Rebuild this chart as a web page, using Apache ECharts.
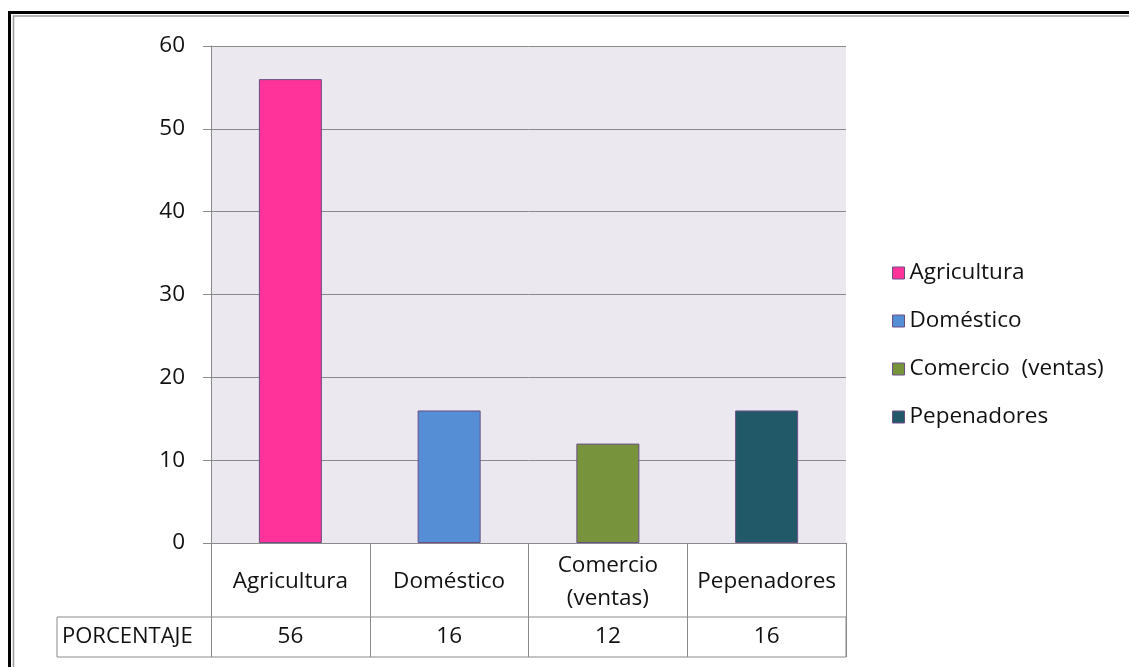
<!DOCTYPE html>
<html>
<head>
<meta charset="utf-8">
<script src="https://cdn.jsdelivr.net/npm/echarts@6/dist/echarts.min.js"></script>
<style>
html,body{margin:0;padding:0;background:#fff;}
#c{width:1129px;height:667px;}
</style>
</head>
<body>
<div id="c"></div>
<script>
var categories = ['Agricultura', 'Doméstico', 'Comercio  (ventas)', 'Pepenadores'];
var values = [56, 16, 12, 16];
var colors = ['#FF3399', '#558ED5', '#77933C', '#215968'];
var rowLabel = 'PORCENTAJE';
var yTicks = { min: 0, max: 60, interval: 10 };

var FONT = 'Open Sans';
var gray = '#8a8a8a';

var chart = echarts.init(document.getElementById('c'), null, { renderer: 'canvas' });

var series = categories.map(function (name, i) {
  return {
    name: name,
    type: 'bar',
    stack: 'one',
    barWidth: 63,
    xAxisIndex: 0,
    yAxisIndex: 0,
    itemStyle: { color: colors[i], borderColor: '#6A4E86', borderWidth: 1 },
    data: values.map(function (v, j) { return j === i ? v : '-'; })
  };
});

var option = {
  animation: false,
  textStyle: { fontFamily: FONT },
  color: colors,
  legend: {
    orient: 'vertical',
    left: 887,
    top: 256,
    itemWidth: 12,
    itemHeight: 12,
    itemGap: 24,
    icon: 'rect',
    itemStyle: { borderColor: '#6A4E86', borderWidth: 1 },
    textStyle: { fontFamily: FONT, fontSize: 22.5, lineHeight: 24, color: '#111', padding: [0, 0, 0, 0] },
    data: categories
  },
  graphic: [
    { type: 'rect', silent: true, shape: { x: 9.5, y: 12.5, width: 1300, height: 1000 },
      style: { fill: 'none', stroke: '#000', lineWidth: 3 } },
    { type: 'rect', silent: true, shape: { x: 13.5, y: 16, width: 1300, height: 1000 },
      style: { fill: 'none', stroke: '#9a9a9a', lineWidth: 1.5 } }
  ],
  grid: [
    { left: 211, right: 283, top: 46, bottom: 124, show: true, backgroundColor: '#EBE9EF', borderWidth: 0 },
    { left: 57, right: 283, top: 617, bottom: 10, height: 40, show: true, backgroundColor: 'transparent', borderColor: gray, borderWidth: 1 }
  ],
  xAxis: [
    {
      type: 'category', gridIndex: 0, data: categories,
      axisLine: { show: true, lineStyle: { color: gray, width: 1 } },
      axisTick: { show: true, interval: 0, length: 114, lineStyle: { color: gray, width: 1 } },
      axisLabel: {
        interval: 0, margin: 39, verticalAlign: 'middle', color: '#111',
        fontFamily: FONT, fontSize: 22.5, lineHeight: 33,
        formatter: function (v) { return v.replace('  ', '\n'); }
      },
      splitLine: { show: false }
    },
    {
      type: 'category', gridIndex: 0, position: 'bottom', data: values.map(String),
      axisLine: { show: false }, axisTick: { show: false },
      axisLabel: { interval: 0, margin: 94, verticalAlign: 'middle', color: '#111', fontFamily: FONT, fontSize: 22.5 }
    },
    { type: 'value', gridIndex: 1, show: false }
  ],
  yAxis: [
    {
      type: 'value', gridIndex: 0, min: yTicks.min, max: yTicks.max, interval: yTicks.interval,
      axisLine: { show: true, lineStyle: { color: gray, width: 1 } },
      axisTick: { show: true, length: 8, lineStyle: { color: gray } },
      axisLabel: { margin: 26, color: '#111', fontFamily: FONT, fontSize: 22.5 },
      splitLine: { show: true, lineStyle: { color: gray, width: 1 } }
    },
    {
      type: 'category', gridIndex: 1, data: [rowLabel],
      axisLine: { show: false }, axisTick: { show: false },
      axisLabel: { align: 'left', margin: -5, color: '#111', fontFamily: FONT, fontSize: 22 }
    }
  ],
  series: series
};
chart.setOption(option);
</script>
</body>
</html>
